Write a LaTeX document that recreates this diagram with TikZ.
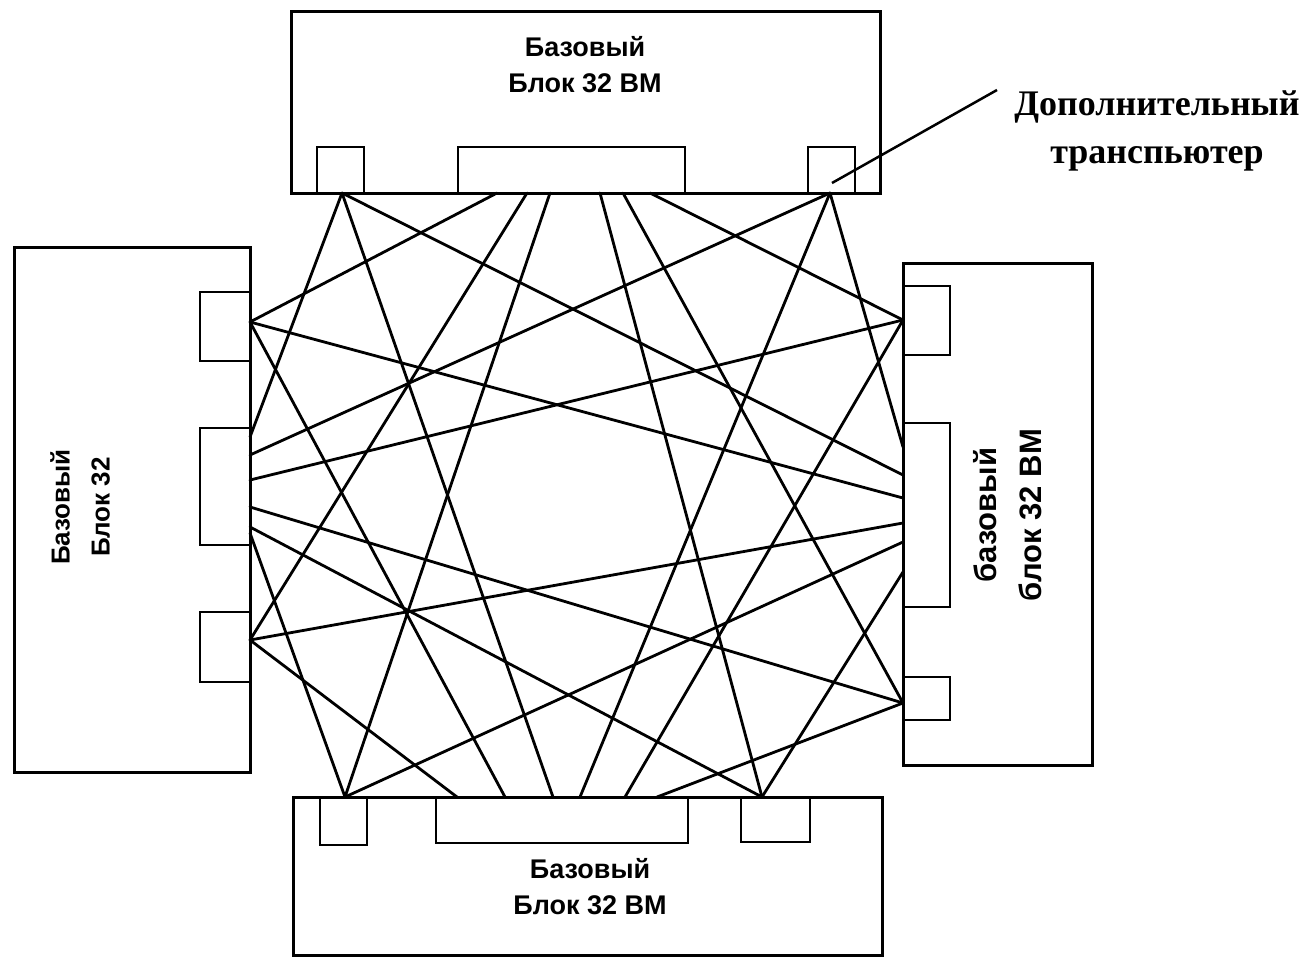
\documentclass[tikz,border=0pt]{standalone}
\usepackage{fontspec}
\newfontfamily\sansf{Liberation Sans}
\newfontfamily\serf{Liberation Serif}
\begin{document}
\begin{tikzpicture}[x=1pt,y=-1pt,
  blockbox/.style={draw,line width=3pt,inner sep=0pt,outer sep=0pt},
  portbox/.style={draw,line width=2.8pt,inner sep=0pt,outer sep=0pt},
  link/.style={line width=2.8pt,line cap=round},
  blocktext/.style={font=\sansf\bfseries\fontsize{27}{36}\selectfont,align=center,inner sep=0pt},
  labeltext/.style={font=\serf\bfseries\fontsize{36}{48}\selectfont,align=center,inner sep=0pt}]
\useasboundingbox (0,0) rectangle (1310,958);
% --- blocks ---
\node[blockbox,minimum width=589pt,minimum height=181pt] (topblk) at (585.5,102.5) {};
\node[blockbox,minimum width=236pt,minimum height=525pt] (leftblk) at (132,509.5) {};
\node[blockbox,minimum width=189pt,minimum height=502pt] (rightblk) at (997.5,514) {};
\node[blockbox,minimum width=589pt,minimum height=158pt] (botblk) at (587.5,876) {};
% --- ports, top ---
\node[portbox,minimum width=47pt,minimum height=46pt] (tp1) at (340.5,170) {};
\node[portbox,minimum width=227pt,minimum height=46pt] (tp2) at (571.5,170) {};
\node[portbox,minimum width=47pt,minimum height=46pt] (tp3) at (831.5,170) {};
% --- ports, left ---
\node[portbox,minimum width=50pt,minimum height=69pt] (lp1) at (225,326.5) {};
\node[portbox,minimum width=50pt,minimum height=117pt] (lp2) at (225,486.5) {};
\node[portbox,minimum width=50pt,minimum height=70pt] (lp3) at (225,647) {};
% --- ports, right ---
\node[portbox,minimum width=47pt,minimum height=69pt] (rp1) at (926.5,320.5) {};
\node[portbox,minimum width=47pt,minimum height=184pt] (rp2) at (926.5,515) {};
\node[portbox,minimum width=47pt,minimum height=43pt] (rp3) at (926.5,698.5) {};
% --- ports, bottom ---
\node[portbox,minimum width=47pt,minimum height=48pt] (bp1) at (343.5,821) {};
\node[portbox,minimum width=252pt,minimum height=46pt] (bp2) at (562,820) {};
\node[portbox,minimum width=69pt,minimum height=45pt] (bp3) at (775.5,819.5) {};
% --- texts ---
\node[blocktext] (toptxt) at (585,65) {Базовый\\Блок 32 ВМ};
\node[blocktext] (bottxt) at (590,887) {Базовый\\Блок 32 ВМ};
\node[blocktext,rotate=90,font=\sansf\bfseries\fontsize{26}{40}\selectfont] (lefttxt) at (80,507) {Базовый\\Блок 32};
\node[blocktext,rotate=90,font=\sansf\bfseries\fontsize{31}{45}\selectfont] (righttxt) at (1008,515) {базовый\\блок 32 ВМ};
\node[labeltext] (lbl) at (1157,131) {Дополнительный\\транспьютер};
% --- hubs ---
\coordinate (TL) at (342,193);
\coordinate (TR) at (830,193);
\coordinate (BL) at (345,797);
\coordinate (BR) at (762,797);
\coordinate (L1) at (250,322);
\coordinate (L3) at (250,640);
\coordinate (R1) at (903,320);
\coordinate (R3) at (903,703);
% --- middle points ---
\foreach \x in {497,527,550,600,623,650}{\coordinate (T\x) at (\x,193);}
\foreach \x in {457,505,553,580,625,657}{\coordinate (B\x) at (\x,797);}
\foreach \y in {437,455,480,507,527,533}{\coordinate (L\y) at (250,\y);}
\foreach \y in {447,475,498,523,542,572}{\coordinate (R\y) at (903,\y);}
% --- links ---
\draw[link] (L1) -- (T497); \draw[link] (L1) -- (B505); \draw[link] (L1) -- (R498);
\draw[link] (L3) -- (T527); \draw[link] (L3) -- (B457); \draw[link] (L3) -- (R523);
\draw[link] (R1) -- (T650); \draw[link] (R1) -- (B625); \draw[link] (R1) -- (L480);
\draw[link] (R3) -- (T623); \draw[link] (R3) -- (B657); \draw[link] (R3) -- (L507);
\draw[link] (TL) -- (L437); \draw[link] (TL) -- (B553); \draw[link] (TL) -- (R475);
\draw[link] (TR) -- (L455); \draw[link] (TR) -- (B580); \draw[link] (TR) -- (R447);
\draw[link] (BL) -- (L533); \draw[link] (BL) -- (T550); \draw[link] (BL) -- (R542);
\draw[link] (BR) -- (L527); \draw[link] (BR) -- (T600); \draw[link] (BR) -- (R572);
% --- leader ---
\coordinate (pinA) at (997,90);
\coordinate (pinB) at (832,183);
\draw[line width=2.5pt] (pinA) -- (pinB);
\end{tikzpicture}
\end{document}
